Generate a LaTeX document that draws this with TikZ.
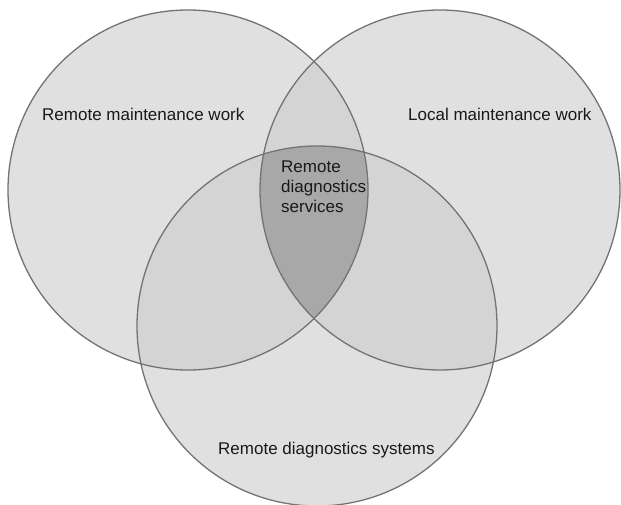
\documentclass[tikz,border=0pt]{standalone}
\usepackage{fontspec}
\setmainfont{Liberation Sans}

\definecolor{vennone}{gray}{0.88}
\definecolor{venntwo}{gray}{0.83}
\definecolor{vennthree}{gray}{0.66}
\definecolor{vennline}{gray}{0.45}

\tikzset{
  venntext/.style={font=\fontsize{17}{19.7}\selectfont, text=black!90, inner sep=0pt},
  vennedge/.style={draw=vennline, line width=1.3pt}
}

\begin{document}
\begin{tikzpicture}[x=1pt, y=-1pt]
    \useasboundingbox (0,0) rectangle (621,505);

    % Centres of the three sets
    \coordinate (rmw) at (188,190);
    \coordinate (lmw) at (440,190);
    \coordinate (rds) at (317,326);

    % Fill each set
    \foreach \c in {rmw, lmw, rds}
        \fill[vennone] (\c) circle[radius=180pt];

    % Pairwise overlaps
    \begin{scope}
        \clip (rmw) circle[radius=180pt];
        \fill[venntwo] (lmw) circle[radius=180pt];
        \fill[venntwo] (rds) circle[radius=180pt];
    \end{scope}
    \begin{scope}
        \clip (lmw) circle[radius=180pt];
        \fill[venntwo] (rds) circle[radius=180pt];
    \end{scope}

    % Middle of all three
    \begin{scope}
        \clip (rmw) circle[radius=180pt];
        \clip (lmw) circle[radius=180pt];
        \fill[vennthree] (rds) circle[radius=180pt];
    \end{scope}

    % Outlines on top
    \foreach \c in {rmw, lmw, rds}
        \draw[vennedge] (\c) circle[radius=180pt];

    % Set labels
    \node[venntext, anchor=base west] (rmwlabel) at (42,121) {Remote maintenance work};
    \node[venntext, anchor=base west] (lmwlabel) at (408,121) {Local maintenance work};
    \node[venntext, anchor=base west] (rdslabel) at (218,454) {Remote diagnostics systems};
    \node[venntext, anchor=north west, align=left] (rdsvlabel) at (281,161) {Remote\\diagnostics\\services};
\end{tikzpicture}
\end{document}
